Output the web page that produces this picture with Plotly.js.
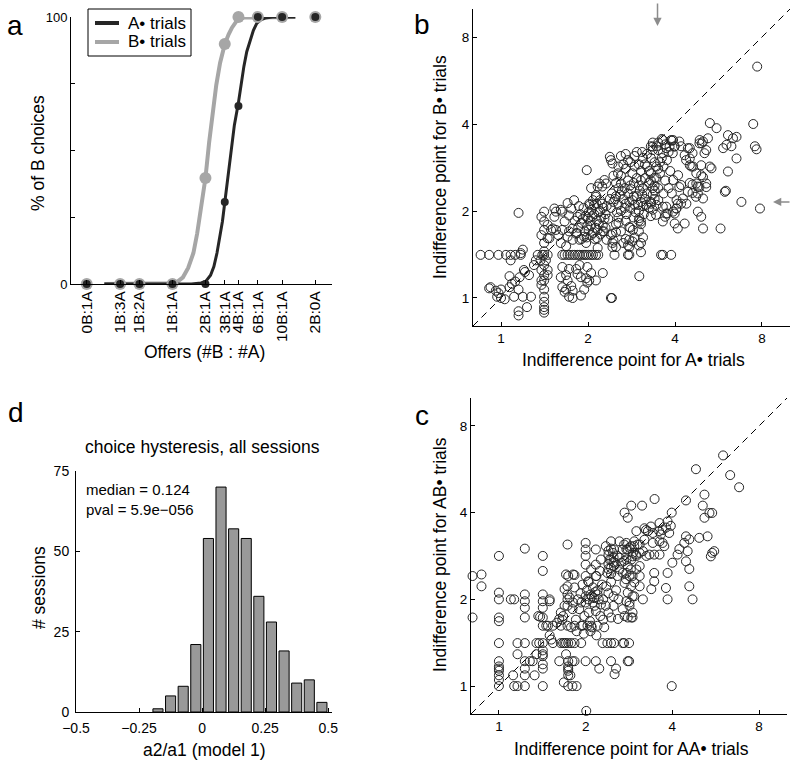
<!DOCTYPE html>
<html>
<head>
<meta charset="utf-8">
<script src="https://cdn.plot.ly/plotly-3.0.1.min.js"></script>
<style>html,body{margin:0;padding:0;background:#fff;}#chart{width:800px;height:769px;}</style>
</head>
<body>
<div id="chart"></div>
<script>
// ---------- Panel a: psychometric curves ----------
const offerLabels = ['0B:1A','1B:3A','1B:2A','1B:1A','2B:1A','3B:1A','4B:1A','6B:1A','10B:1A','2B:0A'];
const offerLogRatio = [-1.8, -1.0986, -0.693, 0, 0.693, 1.0986, 1.386, 1.792, 2.303, 3.0];
const pctB_Atrials = [0, 0, 0, 0, 0, 30.7, 66.7, 100, 100, 100];
const pctB_Btrials = [0, 0, 0, 0, 39.7, 89.9, 100, 100, 100, 100];
const fitA_x = [-1.43, 0.4, 0.6, 0.7, 0.8, 0.87, 0.935, 1.0, 1.05, 1.1, 1.15, 1.2, 1.25, 1.3, 1.386, 1.45, 1.5, 1.56, 1.63, 1.7, 1.77, 1.85, 1.95, 2.1, 2.58];
const fitA_y = [0, 0, 0.4, 1.0, 3.3, 6.5, 11.6, 17.5, 23.5, 30.7, 38, 45.5, 53, 59.5, 68, 76, 81.5, 87, 91.5, 95, 97.6, 98.9, 99.6, 100, 100];
const fitB_x = [-1.43, 0.0, 0.1, 0.22, 0.33, 0.44, 0.52, 0.58, 0.64, 0.693, 0.77, 0.85, 0.92, 1.0, 1.1, 1.18, 1.25, 1.36, 1.5, 2.58];
const fitB_y = [0, 0.3, 0.8, 2.5, 6, 11.6, 19, 26.6, 33, 39.7, 53, 65, 74.5, 82.8, 89.9, 93.5, 96, 98.8, 99.8, 100];
const legendNames = ['A\u2022 trials', 'B\u2022 trials'];

// ---------- Panel b: indifference points, A• vs B• trials ----------
const bPoints = [
[0.85,1.41],[0.91,1.41],[0.98,1.41],[1.04,1.41],[1.08,1.41],[1.12,1.41],[1.17,1.41],[1.34,1.41],[1.39,1.41],
[0.92,1.09],[0.96,1.06],[0.97,1.01],[1.0,1.0],[0.91,1.08],[0.98,1.04],[1.03,0.99],[1.0,1.07],
[1.07,1.09],[1.09,1.12],[1.15,1.07],[1.11,1.01],[1.19,1.01],[1.27,1.01],[1.23,0.93],[1.15,0.9],[1.15,0.87],
[1.07,1.19],[1.12,1.14],[1.2,1.25],[1.25,1.2],[1.08,1.35],[1.19,1.47],[1.32,1.35],[1.3,1.3],[1.37,1.35],[1.15,1.97],[1.16,1.18],[1.21,1.23],[1.17,1.43],
[1.41,1.99],[1.38,1.91],[1.41,1.84],[1.45,1.79],[1.41,1.72],[1.38,1.65],[1.45,1.61],[1.41,1.55],[1.41,1.41],[1.43,1.35],[1.41,1.3],[1.38,1.25],[1.41,1.2],[1.45,1.2],[1.41,1.15],[1.38,1.11],[1.41,1.07],[1.41,1.01],[1.41,0.97],[1.41,0.93],[1.41,0.91],[1.41,0.89],[1.45,1.25],[1.38,1.15],[1.41,1.45],[1.45,1.41],
[1.53,2.04],[1.49,1.72],[1.47,1.61],[1.51,1.74],
[1.61,1.18],[1.68,1.2],[1.70,1.15],[1.68,1.07],[1.66,1.05],[1.72,1.01],[1.75,1.1],[1.77,1.06],[1.84,1.21],[1.89,1.18],[1.97,1.17],[1.99,1.13],[1.94,1.07],[2.05,1.22],[2.13,1.15],[2.25,1.22],[2.40,1.0],[1.87,1.30],[1.82,1.26],[1.72,1.26],[1.99,1.28],[1.63,1.09],[1.77,1.0],[1.89,1.02],[2.02,1.15],
[1.63,1.41],[1.66,1.41],[1.70,1.41],[1.73,1.41],[1.77,1.41],[1.80,1.41],[1.84,1.41],[1.87,1.41],[1.91,1.41],[1.94,1.41],[1.97,1.41],[2.01,1.41],[2.05,1.41],[2.08,1.41],[2.13,1.41],[2.17,1.41],[2.47,1.41],[2.75,1.41],[2.78,1.41],[3.58,1.41],[3.63,1.41],[3.88,1.41],
[1.55,1.72],[1.58,1.65],[1.63,1.72],[1.70,1.63],[1.72,1.70],[1.77,1.74],[1.82,1.67],[1.87,1.59],[1.94,1.63],[2.01,1.72],[2.05,1.65],[2.15,1.61],[2.25,1.70],[2.32,1.59],[2.43,1.55],[1.61,1.55],[1.68,1.51],[1.77,1.59],[1.97,1.55],[2.16,1.49],[1.63,1.28],
[1.55,1.99],[1.63,1.99],[1.72,1.93],[1.70,2.13],[1.53,1.91],[1.75,2.04],[1.84,1.91],[1.66,1.84],[1.61,2.02],[1.79,2.18],
[1.85,1.75],[1.9,1.82],[1.95,1.7],[2.0,1.88],[2.05,1.78],[2.1,1.95],[2.15,1.85],[2.2,2.0],[1.88,1.95],[1.93,2.05],[1.98,1.62],[2.03,2.1],[2.08,1.68],[2.12,1.75],[2.18,1.8],[2.22,1.9],[2.26,2.05],[2.3,1.95],[1.8,1.85],[1.83,1.68],[1.96,1.92],[2.01,1.98],[2.06,2.02],[2.11,1.6],[2.16,1.72],[2.21,1.66],[2.25,1.78],[2.28,1.88],[1.9,1.6],[1.99,1.78],[2.04,1.85],[2.14,2.12],[2.2,2.18],[2.24,2.12],[2.32,2.08],[1.86,2.08],[1.92,1.88],[2.07,1.92],[2.17,1.98],[2.27,1.7],
[1.98,2.77],[2.38,3.08],[2.43,2.92],[2.4,3.0],[2.19,2.49],[2.16,2.43],[2.24,2.43],[2.31,2.49],[2.13,2.24],[2.08,2.18],[2.02,2.12],[2.1,2.1],[2.05,2.4],[2.28,2.56],[2.13,2.27],[2.54,2.7],[2.6,2.49],
[2.4,2.05],[2.45,2.15],[2.5,2.25],[2.55,2.1],[2.6,2.0],[2.65,2.2],[2.7,2.12],[2.75,2.3],[2.8,2.05],[2.85,2.18],[2.9,2.1],[2.95,2.25],[3.0,2.0],[3.05,2.15],[3.1,2.08],[3.15,2.2],[3.2,2.3],[3.3,2.15],[3.4,2.2],[3.5,2.18],[2.42,2.3],[2.52,1.98],[2.62,2.35],[2.72,1.95],[2.82,2.38],[2.92,1.98],[3.02,2.35],[3.12,1.95],[3.25,2.05],[2.48,2.2],[2.58,2.28],[2.68,2.05],[2.78,2.15],[2.88,2.25],[2.98,2.1],[3.08,2.28],[3.18,2.1],[3.35,2.28],[2.38,2.2],[2.55,1.9],[2.87,1.9],[3.0,1.85],[2.7,1.85],[3.3,1.92],[3.45,2.1],
[2.3,1.75],[2.4,1.65],[2.5,1.8],[2.6,1.7],[2.7,1.6],[2.8,1.75],[2.9,1.62],[3.0,1.7],[3.1,1.62],[2.45,1.58],[2.65,1.55],[2.85,1.57],[2.35,1.88],[2.55,1.82],[3.05,1.8],[2.43,1.67],[2.5,1.69],[2.86,1.72],[2.78,1.59],[2.5,1.5],[2.43,1.5],[2.78,1.5],[3.0,1.52],[3.05,1.44],[3.01,1.19],[2.42,1.0],[2.75,1.52],[3.05,1.55],[3.01,1.89],[3.05,1.84],[2.78,1.76],
[2.5,2.5],[2.6,2.65],[2.7,2.8],[2.8,2.95],[2.9,3.1],[3.0,2.9],[3.1,3.05],[3.2,2.85],[3.3,2.7],[3.4,2.95],[2.55,2.4],[2.65,2.9],[2.75,2.55],[2.85,2.7],[2.95,2.6],[3.05,2.75],[3.15,2.6],[3.25,2.5],[3.35,2.4],[3.45,2.6],[2.6,3.1],[2.7,3.15],[2.8,2.45],[2.9,2.85],[3.0,2.45],[3.1,2.4],[3.2,3.15],[3.3,3.05],[2.45,2.65],[2.55,2.85],[2.75,3.0],[2.95,3.2],[3.05,2.55],[3.15,2.9],[3.25,2.75],[3.4,2.45],[3.5,2.8],[2.68,2.4],[2.88,2.5],[3.08,3.2],
[3.5,3.25],[3.6,3.05],[3.7,3.4],[3.55,2.95],[3.8,3.2],[3.65,2.85],[3.9,3.5],[3.75,3.0],[3.45,3.35],[3.85,2.75],[3.6,3.55],[3.35,3.45],[3.3,3.35],[3.5,3.45],
[3.35,3.25],[3.63,3.17],[3.73,3.3],[3.88,3.52],[3.93,3.17],[3.99,3.35],[4.14,3.48],[4.2,3.35],[4.43,3.3],[4.5,3.04],[4.56,2.85],[4.86,3.43],[5.0,3.48],[5.2,3.57],[5.28,4.03],[5.57,3.87],[5.06,3.17],[5.13,3.25],[5.28,2.85],[4.93,2.88],[4.74,2.7],[4.93,2.66],[5.13,2.49],[5.35,2.81],
[5.87,3.3],[6.03,3.39],[6.27,3.35],[6.35,3.57],[6.53,3.61],[6.1,3.66],[6.53,3.04],[6.1,2.74],[5.95,2.33],[6.79,2.15],[7.87,2.04],[7.46,4.0],[7.56,3.35],[7.66,3.27],[7.7,6.32],[6.0,2.35],
[4.8,1.99],[4.93,1.91],[5.0,1.74],[5.75,1.74],
[3.73,1.96],[3.99,1.96],[4.04,2.04],[4.09,1.74],[4.32,1.81],[3.99,1.81],[3.73,2.07],[3.63,1.84],[3.44,1.94],[3.35,2.02],[3.31,2.12],
[4.38,2.12],[4.74,2.49],[4.86,2.42],[4.8,2.3],[5.0,2.62],[4.62,2.85],[5.13,2.42],[5.0,2.21],[4.43,2.33],[4.14,2.42],[4.26,2.21],[4.09,2.12],
[4.1,2.66],[3.94,2.56],[4.2,2.46],[4.05,2.18],[4.2,2.12],[4.05,2.04],[3.94,1.99],[3.7,1.91],[3.63,2.07],[3.77,1.96],[4.73,2.24],[4.8,2.43],[4.6,2.31],[4.5,2.5],[4.6,2.47],[4.37,3.0],[4.5,2.88],[4.6,3.17],[4.87,3.52],[4.95,3.43],[4.5,3.3],[4.32,3.12],[3.94,3.52],[3.83,3.34],[3.98,3.34],[3.63,3.52],[3.35,3.34],
[3.4,2.6],[3.5,2.4],[3.55,2.7],[3.7,2.55],[3.45,2.85],[3.8,2.4],[3.3,2.55],[3.65,2.3],[3.9,2.3],[3.4,2.35]
];

// ---------- Panel c: indifference points, AA• vs AB• trials ----------
const cPoints = [
[0.81,2.41],[0.87,2.44],[0.87,2.22],[0.81,1.73],
[1.0,2.83],[1.0,2.11],[1.0,2.0],[1.0,1.73],[1.0,1.68],[1.0,1.41],[1.0,1.22],[1.0,1.17],[1.0,1.13],[1.0,1.09],[1.0,1.05],[1.0,1.0],[1.0,1.15],
[1.1,2.0],[1.13,2.0],
[1.23,3.0],[1.23,2.08],[1.23,1.97],[1.23,1.87],[1.23,1.73],[1.16,1.41],[1.23,1.41],[1.23,1.22],[1.23,1.15],[1.23,1.09],[1.23,1.0],[1.13,1.0],[1.16,1.0],[1.12,1.09],[1.16,1.29],
[1.31,1.22],[1.33,1.09],[1.35,1.41],[1.38,1.41],[1.35,1.29],[1.28,1.22],
[1.42,2.83],[1.42,2.51],[1.42,2.08],[1.42,1.97],[1.42,1.87],[1.42,1.73],[1.42,1.62],[1.37,1.75],[1.46,1.62],[1.5,1.97],[1.48,1.62],[1.5,2.0],[1.39,1.74],
[1.42,1.41],[1.42,1.33],[1.42,1.27],[1.42,1.19],[1.42,1.15],[1.42,1.0],[1.42,1.29],
[1.52,1.45],[1.54,1.41],[1.5,1.5],
[1.62,1.71],[1.67,1.75],[1.64,1.41],[1.67,1.41],[1.69,1.41],[1.71,1.41],[1.74,1.41],
[1.73,3.1],[1.74,2.41],[1.81,2.44],[1.71,2.44],[1.73,2.22],[1.73,2.08],[1.73,2.0],[1.73,1.9],[1.83,2.43],[1.69,1.9],[1.64,1.8],[1.66,1.7],[1.59,1.66],
[1.62,1.22],[1.71,1.29],[1.74,1.22],[1.8,1.22],[1.74,1.17],[1.74,1.13],[1.77,1.09],[1.74,1.09],[1.74,1.0],[1.8,1.0],[1.86,1.0],[1.68,1.03],[1.83,1.22],[1.74,1.15],
[1.54,1.62],[1.64,1.62],[1.73,1.62],[1.83,1.62],[1.93,1.62],[2.03,1.62],[2.09,1.62],
[1.78,1.41],[1.83,1.41],[1.93,1.41],[2.29,1.41],[2.38,1.41],[2.45,1.41],[2.51,1.41],[2.69,1.41],[2.72,1.41],[2.83,1.41],
[2.0,1.22],[2.17,1.22],[2.45,1.22],[2.83,1.22],[2.23,1.15],[2.55,1.15],[2.52,1.1],
[2.0,3.14],[2.0,2.98],[2.0,2.83],[2.0,2.64],[2.0,2.41],[2.17,2.98],[2.17,2.64],[2.17,2.41],[2.26,2.75],
[2.35,3.06],[2.45,3.18],[2.51,2.98],[2.62,3.18],[2.72,3.1],[2.8,2.98],[2.87,3.06],[2.95,3.18],[3.03,3.1],[2.45,2.75],[2.51,2.61],[2.58,2.83],[2.72,2.72],[2.87,2.54],[2.99,2.86],[2.38,2.47],[2.58,2.41],[2.76,2.35],[2.95,2.29],
[2.49,2.9],[2.42,2.75],[2.52,2.68],[2.62,2.79],[2.69,2.98],[2.77,3.14],[2.84,3.02],[2.92,2.9],[2.88,2.75],[3.0,2.83],[3.08,3.1],[3.16,2.94],[3.25,2.83],[3.33,2.86],[3.46,2.86],[3.61,2.86],[2.62,2.54],[2.77,2.47],[2.45,2.57],[3.08,2.61],[3.2,3.22],[3.29,3.45],[3.42,3.4],[3.61,3.18],[3.7,3.48],[3.61,3.68],[3.2,3.53],
[2.77,2.98],[2.95,3.06],[3.08,2.9],[2.91,2.82],[2.77,2.75],[2.66,2.68],[2.8,2.61],[3.0,2.54],[2.69,2.47],[2.84,2.41],[3.08,2.41],[2.73,2.28],[2.88,2.22],[2.8,2.11],[2.95,2.05],[2.77,1.97],[2.84,1.9],[2.91,1.8],[2.73,1.75],[2.8,1.73],[2.88,1.73],[2.8,1.22],[3.98,1.0],[2.01,0.82],
[3.24,3.48],[3.0,3.45],[3.37,3.58],
[3.85,3.73],[3.95,3.6],[3.8,3.55],[3.6,3.45],[3.65,3.36],[3.9,3.4],
[3.42,3.14],[3.7,3.14],[3.75,3.06],[4.0,2.68],[3.85,2.47],[3.8,2.19],[3.85,2.0],[3.46,2.47],[3.46,2.31],[3.38,2.17],[3.16,2.0],
[4.46,3.31],[4.58,3.23],[4.4,3.14],[4.96,3.27],[5.3,3.31],[4.52,2.94],[4.46,2.71],[4.58,2.55],[4.58,2.22],[4.7,2.0],[5.5,2.9],[5.59,2.94],[5.44,2.82],[4.17,2.86],[4.23,2.99],
[6.0,6.32],[4.83,5.66],[6.35,5.4],[6.82,4.9],[5.17,4.62],[5.1,4.23],[5.17,3.84],[5.38,3.99],[5.5,3.99],[4.46,4.41],[3.98,4.0],[3.47,4.46],[2.88,4.23],[3.14,4.23],[2.73,4.0],[2.8,3.84],
[1.85,1.7],[1.9,1.85],[1.95,1.62],[2.0,1.95],[2.05,1.8],[2.1,2.05],[2.15,1.9],[2.2,2.15],[2.25,1.75],[2.3,2.0],[1.88,2.0],[1.92,2.1],[1.98,1.75],[2.02,2.15],[2.07,1.68],[2.12,2.2],[2.17,1.82],[2.22,2.0],[2.28,2.25],[2.35,1.9],[2.4,2.1],[2.45,2.3],[2.5,2.05],[1.8,1.85],[1.83,2.2],[1.95,2.25],[2.05,2.3],[2.1,1.6],[2.2,1.62],[2.3,1.7],[2.4,1.8],[2.5,1.9],[2.55,2.15],[2.6,2.0],[1.78,1.6],[1.86,1.55],[1.97,1.52],[2.08,1.55],[2.18,1.5],[2.12,1.95],[2.08,2.08],[2.16,2.12],[2.04,2.0],[2.14,2.02],[2.2,2.08],[2.0,2.05],[1.93,1.95],[2.26,1.92],[2.36,2.22],[2.32,1.6],
[2.4,2.55],[2.4,2.65],[2.4,2.85],[2.4,2.95],[2.45,2.45],[2.45,3.0],[2.5,2.7],[2.5,2.8],
[2.45,1.73],[2.59,1.71],[2.69,1.85],[2.91,1.73],[2.84,1.95],[2.91,2.05],[3.08,2.22],[2.91,2.41],
[2.24,2.51],[2.18,2.41],[2.09,2.54],[2.04,2.31],[1.76,2.03],[1.69,2.17],[1.81,1.95]
];

// ---------- Panel d: histogram of a2/a1 ----------
const binCenters = [-0.175, -0.125, -0.075, -0.025, 0.025, 0.075, 0.125, 0.175, 0.225, 0.275, 0.325, 0.375, 0.425, 0.475];
const sessionCounts = [1, 5, 8, 21, 54, 70, 57, 54, 36, 28, 19, 9, 10, 3];

const FONT = "'Liberation Sans', Arial, Helvetica, sans-serif";
const BLACK = '#262626', GRAY = '#a6a6a6';
const diag = [0.8, 10];

const traces = [
  {x: fitB_x, y: fitB_y, xaxis:'x', yaxis:'y', mode:'lines', line:{color:GRAY, width:4}, name:legendNames[1], showlegend:false, hoverinfo:'skip'},
  {x: fitA_x, y: fitA_y, xaxis:'x', yaxis:'y', mode:'lines', line:{color:BLACK, width:3}, name:legendNames[0], showlegend:false, hoverinfo:'skip'},
  {x: offerLogRatio, y: pctB_Btrials, xaxis:'x', yaxis:'y', mode:'markers', marker:{color:GRAY, size:12}, showlegend:false, cliponaxis:false},
  {x: offerLogRatio, y: pctB_Atrials, xaxis:'x', yaxis:'y', mode:'markers', marker:{color:BLACK, size:8}, showlegend:false, cliponaxis:false},
  {x: diag, y: diag, xaxis:'x2', yaxis:'y2', mode:'lines', line:{color:'#000', width:1, dash:'7px,5px'}, showlegend:false},
  {x: bPoints.map(p=>p[0]), y: bPoints.map(p=>p[1]), xaxis:'x2', yaxis:'y2', mode:'markers', marker:{symbol:'circle-open', size:9, color:BLACK, line:{width:1}}, showlegend:false, cliponaxis:false},
  {x: binCenters, y: sessionCounts, xaxis:'x3', yaxis:'y3', type:'bar', width:0.04, marker:{color:'#999999', line:{color:'#000', width:1}}, showlegend:false},
  {x: diag, y: diag, xaxis:'x4', yaxis:'y4', mode:'lines', line:{color:'#000', width:1, dash:'7px,5px'}, showlegend:false},
  {x: cPoints.map(p=>p[0]), y: cPoints.map(p=>p[1]), xaxis:'x4', yaxis:'y4', mode:'markers', marker:{symbol:'circle-open', size:9, color:BLACK, line:{width:1}}, showlegend:false, cliponaxis:false}
];

const axBase = {showline:true, linecolor:'#000', linewidth:1, ticks:'inside', ticklen:4, tickcolor:'#000', showgrid:false, zeroline:false, tickfont:{family:FONT, size:13.5, color:'#000'}, fixedrange:true};
const logTicks = {type:'log', range:[Math.log10(0.8), 1], tickvals:[1,2,4,8], ticktext:['1','2','4','8']};
const W = 800, H = 769;
const px = v => v / W, py = v => 1 - v / H;

function ann(text, x, y, size, extra) {
  return Object.assign({text:text, x:px(x), y:py(y), xref:'paper', yref:'paper', showarrow:false, xanchor:'center', yanchor:'middle', font:{family:FONT, size:size, color:'#000'}}, extra || {});
}
function pline(x0, x1, y, color, width) {
  return {type:'line', xref:'paper', yref:'paper', x0:px(x0), x1:px(x1), y0:py(y), y1:py(y), line:{color:color, width:width}};
}

const layout = {
  width: W, height: H,
  margin: {l:0, r:0, t:0, b:0},
  paper_bgcolor:'#fff', plot_bgcolor:'rgba(0,0,0,0)',
  showlegend: false,
  xaxis: Object.assign({}, axBase, {domain:[px(71), px(332)], range:[-2.13, 3.35], tickvals: offerLogRatio, ticktext: offerLabels, tickangle:-90, tickfont:{family:FONT, size:15.5, color:'#000'}, anchor:'y'}),
  yaxis: Object.assign({}, axBase, {domain:[py(284), py(17)], range:[0, 100], tickvals:[0,25,50,75,100], ticktext:['0','','','','100'], tickfont:{family:FONT, size:13, color:'#000'}, anchor:'x'}),
  xaxis2: Object.assign({}, axBase, logTicks, {domain:[px(473), px(790)], anchor:'y2'}),
  yaxis2: Object.assign({}, axBase, logTicks, {domain:[py(326), py(9)], anchor:'x2'}),
  xaxis3: Object.assign({}, axBase, {domain:[px(76), px(332)], range:[-0.5, 0.515], tickvals:[-0.5,-0.25,0,0.25,0.5], ticktext:['\u22120.5','\u22120.25','0','0.25','0.5'], tickfont:{family:FONT, size:14, color:'#000'}, ticklabelstandoff:3, anchor:'y3'}),
  yaxis3: Object.assign({}, axBase, {domain:[py(712), py(471)], range:[0, 75], tickvals:[0,25,50,75], tickfont:{family:FONT, size:14, color:'#000'}, ticklabelstandoff:3, anchor:'x3'}),
  xaxis4: Object.assign({}, axBase, logTicks, {domain:[px(471), px(787)], anchor:'y4'}),
  yaxis4: Object.assign({}, axBase, logTicks, {domain:[py(714), py(398)], anchor:'x4'}),
  shapes: [
    {type:'rect', xref:'paper', yref:'paper', x0:px(88), x1:px(191), y0:py(56), y1:py(9), line:{color:'#000', width:1}, fillcolor:'#fff'},
    pline(95, 119, 23, BLACK, 4),
    pline(95, 119, 42, GRAY, 4)
  ],
  annotations: [
    ann(legendNames[0], 126, 23, 17, {xanchor:'left'}),
    ann(legendNames[1], 126, 42, 17, {xanchor:'left'}),
    ann('a', 15, 25, 28), ann('b', 422, 24, 28), ann('d', 16, 412, 28), ann('c', 422, 415, 28),
    ann('% of B choices', 38, 153, 17.5, {textangle:-90}),
    ann('Offers (#B : #A)', 204, 352, 17.5),
    ann('Indifference point for B\u2022 trials', 440, 167, 17.5, {textangle:-90}),
    ann('Indifference point for A\u2022 trials', 633, 360, 17.5),
    ann('choice hysteresis, all sessions', 203, 447, 17.5),
    ann('median = 0.124', 84, 490, 15, {xanchor:'left'}),
    ann('pval = 5.9e\u2212056', 84, 509, 15, {xanchor:'left'}),
    ann('# sessions', 39, 588, 17.5, {textangle:-90}),
    ann('a2/a1 (model 1)', 205, 750, 17.5),
    ann('Indifference point for AB\u2022 trials', 440, 555, 17.5, {textangle:-90}),
    ann('Indifference point for AA\u2022 trials', 631, 749, 17.5),
    {text:'', xref:'x2', yref:'paper', x:Math.log10(3.48), y:py(26), ax:0, ay:-24, showarrow:true, arrowhead:2, arrowsize:1.1, arrowwidth:1.5, arrowcolor:'#8c8c8c'},
    {text:'', xref:'paper', yref:'y2', x:px(773), y:Math.log10(2.15), ax:18, ay:0, showarrow:true, arrowhead:2, arrowsize:1.1, arrowwidth:1.5, arrowcolor:'#8c8c8c'}
  ]
};

Plotly.newPlot('chart', traces, layout, {staticPlot:true, displayModeBar:false});
</script>
</body>
</html>
